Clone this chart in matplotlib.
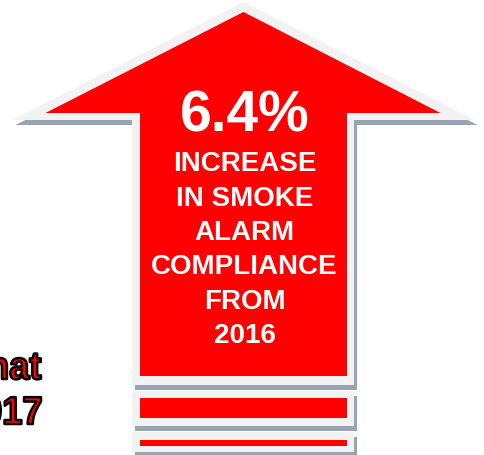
import matplotlib
matplotlib.use("Agg")
import matplotlib.pyplot as plt
from matplotlib.patches import Polygon, Rectangle, PathPatch
from matplotlib.textpath import TextPath
from matplotlib.font_manager import FontProperties
from matplotlib.transforms import Affine2D

# ---- content ----
headline_value = "6.4%"
message_lines = ["INCREASE", "IN SMOKE", "ALARM", "COMPLIANCE", "FROM", "2016"]
side_lines = ["that", "2017"]

RED = "#ff0000"
BORDER = "#f2f2f2"
SHADOW = "#98a3b3"

W, H = 484, 456
fig = plt.figure(figsize=(W / 100, H / 100), dpi=100)
ax = fig.add_axes([0, 0, 1, 1])
ax.set_xlim(0, W)
ax.set_ylim(H, 0)
ax.axis("off")

# arrow geometry (pixel layout)
cx = 243.5
outer = [(cx, 3), (cx + 231, 121), (354, 121), (354, 386), (132, 386), (132, 121), (cx - 231, 121)]
inner = [(cx, 13), (cx + 197, 114), (347, 114), (347, 377), (140, 377), (140, 114), (cx - 198, 114)]
sdx, sdy = 3, 5
ax.add_patch(Polygon([(x + sdx, y + sdy) for x, y in outer], closed=True, fc=SHADOW, ec="none", zorder=1))
ax.add_patch(Polygon(outer, closed=True, fc=BORDER, ec="none", zorder=2))
ax.add_patch(Polygon(inner, closed=True, fc=RED, ec="none", zorder=3))

# stacked bars beneath the arrow
bars = [((132, 392, 222, 35), (140, 399, 207, 20)),
        ((132, 433, 222, 20), (140, 441, 207, 6))]
for (gx, gy, gw, gh), (rx, ry, rw, rh) in bars:
    ax.add_patch(Rectangle((gx + sdx, gy + sdy), gw, gh, fc=SHADOW, ec="none", zorder=1))
    ax.add_patch(Rectangle((gx, gy), gw, gh, fc=BORDER, ec="none", zorder=2))
    ax.add_patch(Rectangle((rx, ry), rw, rh, fc=RED, ec="none", zorder=3))

bold = ["Liberation Sans", "DejaVu Sans"]
ax.text(cx + 1, 117, headline_value, color="white", fontsize=41, fontweight="bold",
        family=bold, ha="center", va="center", zorder=5)
y0, dy = 164.5, 34.3
for i, line in enumerate(message_lines):
    ax.text(cx + 1, y0 + i * dy, line, color="white", fontsize=20, fontweight="bold",
            family=bold, ha="center", va="center", zorder=5)

# condensed, outlined side text (cut by the left edge like the reference)
fp = FontProperties(family="Liberation Sans", weight="bold")
em_px, sx = 39.0, 0.93
for line, yb in zip(side_lines, [380, 425]):
    tp = TextPath((0, 0), line, size=em_px, prop=fp)
    ext = tp.get_extents()
    right = 41.0
    tr = Affine2D().scale(sx, -1).translate(right - ext.x1 * sx, yb) + ax.transData
    ax.add_patch(PathPatch(tp, transform=tr, fc=RED, ec="black", lw=1.8, zorder=5,
                           joinstyle="round"))

fig.savefig("out.png", dpi=100, facecolor="white")
